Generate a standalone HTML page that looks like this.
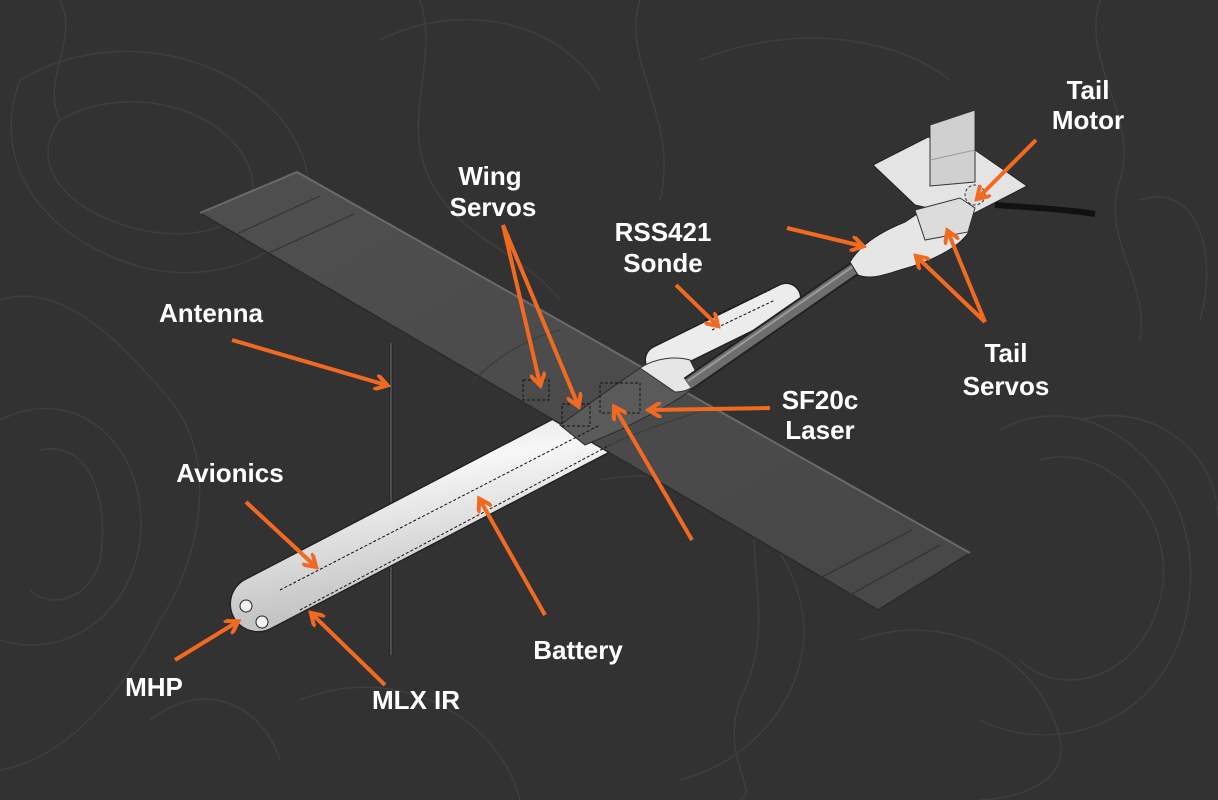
<!DOCTYPE html>
<html><head><meta charset="utf-8"><style>
html,body{margin:0;padding:0;background:#333233;}
svg{display:block}
text{font-family:"Liberation Sans",sans-serif;font-weight:bold;fill:#fff;font-size:26px;text-anchor:middle}
</style></head><body>
<svg width="1218" height="800" viewBox="0 0 1218 800" xmlns="http://www.w3.org/2000/svg">
<defs>
<linearGradient id="fus" x1="0" y1="0" x2="0.3" y2="1">
<stop offset="0" stop-color="#cfcfcf"/><stop offset="0.4" stop-color="#f7f7f7"/><stop offset="1" stop-color="#c4c4c4"/></linearGradient>
<linearGradient id="wing" x1="0" y1="0" x2="1" y2="1">
<stop offset="0" stop-color="#4f4f4f"/><stop offset="1" stop-color="#474747"/></linearGradient>
<marker id="ah" viewBox="0 0 10 10" refX="7" refY="5" markerWidth="4" markerHeight="4" orient="auto"><path d="M0,0 L8,5 L0,10" fill="none" stroke="#f26a21" stroke-width="2.5"/></marker>
</defs>
<rect width="1218" height="800" fill="#333233"/>
<g fill="none" stroke="#3f3e3f" stroke-width="1.5">
<path d="M20,80 C120,20 260,60 300,150 C340,240 220,300 120,260 C40,230 -10,160 20,80Z"/>
<path d="M60,120 C130,80 230,110 250,170 C270,230 180,250 110,220 C60,200 30,160 60,120Z"/>
<path d="M0,420 C80,380 150,450 140,540 C130,620 60,660 0,640"/>
<path d="M40,450 C90,440 110,500 100,560 C90,600 50,610 30,590"/>
<path d="M0,300 C60,280 120,340 170,400 C220,460 200,560 160,620 C120,700 60,760 0,770"/>
<path d="M700,60 C800,20 900,40 950,80"/>
<path d="M600,480 C700,460 780,520 800,600 C820,680 760,760 680,780"/>
<path d="M1080,420 C1150,400 1218,450 1218,520"/>
<path d="M1040,460 C1110,440 1180,520 1160,600 C1140,680 1060,700 1020,660"/>
<path d="M1000,430 C1090,380 1200,470 1190,590 C1180,720 1060,760 980,720"/>
<path d="M300,700 C400,660 500,720 520,800"/>
<path d="M860,640 C940,610 1040,650 1060,740 C1070,790 1000,800 980,800"/>
<path d="M380,40 C460,0 560,20 600,90"/>
<path d="M1140,200 C1200,180 1218,260 1200,320"/>
<path d="M150,720 C200,680 260,700 280,760"/>
<path d="M420,0 C440,60 400,120 430,180 C460,240 520,250 560,300"/>
<path d="M640,0 C620,60 680,120 660,200"/>
<path d="M760,480 C740,560 780,620 740,700 C720,760 760,790 740,800"/>
<path d="M60,0 C80,40 40,80 60,120"/>
<path d="M1100,0 C1080,60 1140,120 1120,180 C1100,240 1150,280 1140,340"/>
</g>
<!-- antenna -->
<line x1="391" y1="343" x2="391" y2="655" stroke="#222" stroke-width="3"/>
<line x1="391" y1="343" x2="391" y2="655" stroke="#777" stroke-width="1"/>
<!-- fuselage front -->
<line x1="258" y1="604" x2="640" y2="405" stroke="#222" stroke-width="57" stroke-linecap="round"/>
<line x1="258" y1="604" x2="640" y2="405" stroke="url(#fus)" stroke-width="54" stroke-linecap="round"/>
<!-- sonde sleeve -->
<line x1="660" y1="360" x2="786" y2="298" stroke="#222" stroke-width="31" stroke-linecap="round"/>
<line x1="660" y1="360" x2="786" y2="298" stroke="#ececec" stroke-width="28" stroke-linecap="round"/>
<!-- wing -->
<polygon points="200,213 297,172 970,553 878,610" fill="url(#wing)" stroke="#2a2a2a" stroke-width="1.5"/>
<polyline points="200,213 297,172 970,553" fill="none" stroke="#6a6a6a" stroke-width="2"/>
<line x1="228" y1="238" x2="320" y2="196" stroke="#333" stroke-width="1.2"/>
<line x1="262" y1="256" x2="354" y2="214" stroke="#333" stroke-width="1.2"/>
<line x1="820" y1="578" x2="912" y2="530" stroke="#333" stroke-width="1.2"/>
<line x1="850" y1="595" x2="940" y2="545" stroke="#333" stroke-width="1.2"/>
<path d="M470,385 C500,350 540,335 560,330" fill="none" stroke="#3a3a3a"/>
<path d="M610,445 C640,430 690,415 720,405" fill="none" stroke="#3a3a3a"/>
<!-- center fuselage over wing -->
<path d="M560,425 L600,396 L640,368 C655,360 670,358 690,360 L700,380 C690,395 660,410 620,430 L585,445 Z" fill="#5a5a5a" stroke="#2a2a2a"/>
<path d="M640,368 C655,358 675,356 690,360 L700,380 C695,388 685,392 675,392 Z" fill="#e6e6e6" stroke="#333"/>
<!-- tail boom -->
<line x1="688" y1="384" x2="858" y2="266" stroke="#222" stroke-width="15"/>
<line x1="688" y1="384" x2="858" y2="266" stroke="#6e6e6e" stroke-width="11"/>
<line x1="688" y1="381" x2="858" y2="263" stroke="#9a9a9a" stroke-width="2"/>
<!-- servos -->
<g fill="none" stroke="#111" stroke-width="1" stroke-dasharray="3,2">
<rect x="523" y="380" width="26" height="20"/><rect x="562" y="404" width="28" height="22"/><rect x="600" y="383" width="40" height="30"/>
<line x1="280" y1="590" x2="600" y2="425"/><line x1="300" y1="610" x2="610" y2="445"/>
<line x1="705" y1="320" x2="770" y2="290"/><line x1="712" y1="330" x2="775" y2="300"/>
</g>
<!-- tail -->
<polygon points="873,165 928,137 975,150 1027,186 967,217 915,205" fill="#e4e4e4" stroke="#222"/>
<polygon points="930,125 975,110 975,182 930,186" fill="#d0d0d0" stroke="#333"/>
<line x1="930" y1="160" x2="975" y2="150" stroke="#999"/>
<path d="M995,205 C1040,208 1070,210 1095,214" stroke="#111" stroke-width="6" fill="none"/>
<path d="M850,262 C860,245 880,232 905,222 L920,212 C935,205 955,205 965,215 L970,230 C960,248 930,262 900,270 C885,275 870,280 858,275 Z" fill="#e6e6e6" stroke="#222"/>
<path d="M915,210 L960,198 L975,208 L968,232 L925,240 Z" fill="#dcdcdc" stroke="#333"/>
<circle cx="975" cy="195" r="10" fill="#ddd" stroke="#333" stroke-dasharray="3,2"/>
<!-- nose -->
<circle cx="246" cy="606" r="6" fill="#f2f2f2" stroke="#222"/><circle cx="262" cy="622" r="6" fill="#f2f2f2" stroke="#222"/>
<!-- arrows -->
<g stroke="#f26a21" stroke-width="4" fill="none" marker-end="url(#ah)">
<line x1="232" y1="340" x2="386" y2="385"/>
<line x1="503" y1="225" x2="540" y2="384"/>
<line x1="503" y1="225" x2="578" y2="405"/>
<line x1="676" y1="285" x2="717" y2="325"/>
<line x1="1036" y1="140" x2="978" y2="198"/>
<line x1="787" y1="228" x2="862" y2="246"/>
<line x1="985" y1="322" x2="917" y2="257"/>
<line x1="985" y1="322" x2="948" y2="232"/>
<line x1="770" y1="408" x2="650" y2="410"/>
<line x1="692" y1="540" x2="615" y2="408"/>
<line x1="246" y1="502" x2="315" y2="566"/>
<line x1="545" y1="615" x2="480" y2="500"/>
<line x1="175" y1="660" x2="237" y2="622"/>
<line x1="385" y1="685" x2="312" y2="614"/>
</g>
<text x="1088" y="99">Tail</text><text x="1088" y="129">Motor</text>
<text x="490" y="185">Wing</text><text x="493" y="216">Servos</text>
<text x="663" y="241">RSS421</text><text x="663" y="272">Sonde</text>
<text x="211" y="322">Antenna</text>
<text x="1006" y="362">Tail</text><text x="1006" y="395">Servos</text>
<text x="820" y="409">SF20c</text><text x="820" y="439">Laser</text>
<text x="230" y="482">Avionics</text>
<text x="578" y="659">Battery</text>
<text x="154" y="696">MHP</text>
<text x="416" y="709">MLX IR</text>
</svg>
</body></html>
